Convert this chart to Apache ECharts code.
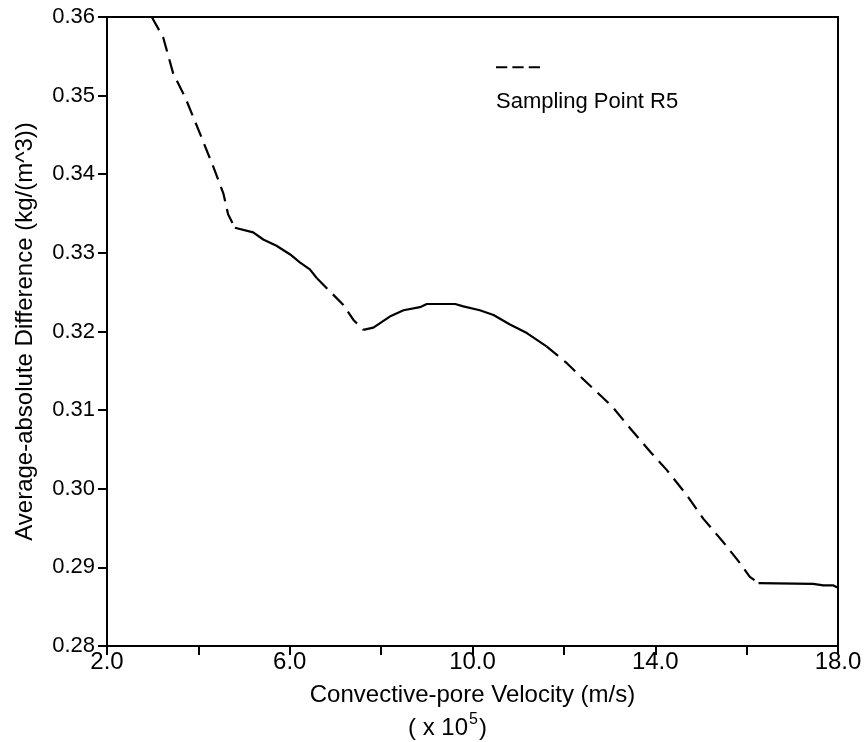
<!DOCTYPE html>
<html>
<head>
<meta charset="utf-8">
<script src="https://cdn.jsdelivr.net/npm/echarts@6/dist/echarts.min.js"></script>
<style>
  html, body { margin: 0; padding: 0; background: #fff; }
  #chart { width: 867px; height: 742px; }
</style>
</head>
<body>
<div id="chart"></div>
<script>
const seriesName = "Sampling Point R5";
const velocity = [2.98, 3.23, 3.45, 3.71, 4.04, 4.33, 4.55, 4.65, 4.80,
  5.20, 5.42, 5.71, 6.01, 6.22, 6.44, 6.59,
  6.88, 7.17, 7.39, 7.61,
  7.83, 8.19, 8.49, 8.85, 9.00, 9.62, 9.80, 10.16, 10.46, 10.82, 11.19, 11.62,
  12.06, 12.43, 13.05, 13.45, 13.89, 14.25, 14.69, 15.05, 15.49, 15.86, 16.07, 16.26,
  17.46, 17.68, 17.90, 18.0];
const difference = [0.3600, 0.3574, 0.3528, 0.3498, 0.3451, 0.3409, 0.3375, 0.3349, 0.3332,
  0.3326, 0.3317, 0.3309, 0.3298, 0.3288, 0.3279, 0.3268,
  0.3251, 0.3234, 0.3215, 0.3202,
  0.3205, 0.3219, 0.3227, 0.3231, 0.3235, 0.3235, 0.3232, 0.3227, 0.3221, 0.3209, 0.3198, 0.3181,
  0.3160, 0.3139, 0.3105, 0.3077, 0.3047, 0.3024, 0.2992, 0.2962, 0.2932, 0.2905, 0.2888, 0.2880,
  0.2879, 0.2877, 0.2877, 0.2874];

const sans = '"Liberation Sans", Arial, Helvetica, sans-serif';
const dash = [15, 8];

// the scanned curve switches between dashed and solid stretches
const pieces = [[0, 8, dash], [8, 15, "solid"], [15, 19, dash],
  [19, 31, "solid"], [31, 43, dash], [43, 47, "solid"]];

const points = velocity.map((v, i) => [v, difference[i]]);
const series = pieces.map(p => ({
  name: seriesName,
  type: "line",
  data: points.slice(p[0], p[1] + 1),
  showSymbol: false,
  symbol: "none",
  clip: true,
  lineStyle: { color: "#000", width: 2.2, type: p[2] },
  itemStyle: { color: "#000" }
}));

const chart = echarts.init(document.getElementById("chart"));
chart.setOption({
  animation: false,
  backgroundColor: "#fff",
  grid: {
    left: 107, right: 29, top: 17, bottom: 96,
    outerBoundsMode: "none",
    show: true, borderColor: "#000", borderWidth: 2
  },
  legend: [
    {
      data: [{ name: seriesName, icon: "path://M0,0h11v2h-11z M16,0h11v2h-11z M32,0h11v2h-11z" }],
      left: 496, top: 66,
      padding: 0,
      itemWidth: 44, itemHeight: 2.5,
      formatter: () => "",
      selectedMode: false,
      itemStyle: { color: "#000" }
    },
    {
      data: [{ name: seriesName, icon: "rect" }],
      left: 491, top: 91,
      padding: 0,
      itemWidth: 0, itemHeight: 0,
      selectedMode: false,
      textStyle: { fontFamily: sans, fontSize: 22, color: "#000" }
    }
  ],
  xAxis: {
    type: "value",
    min: 2, max: 18, interval: 2,
    name: "Convective-pore Velocity (m/s)\n{a|( x 10}{sup|5}{a|)}{pad|}",
    nameLocation: "middle",
    nameGap: 30,
    nameTextStyle: {
      fontFamily: sans, fontSize: 24, color: "#000", lineHeight: 33,
      rich: {
        a: { fontFamily: sans, fontSize: 24, color: "#000", lineHeight: 33 },
        sup: { fontFamily: sans, fontSize: 16, color: "#000", verticalAlign: "top", lineHeight: 33, padding: [0, 1, 16, 1] },
        pad: { width: 50 }
      }
    },
    axisLine: { show: true, lineStyle: { color: "#000", width: 2 } },
    axisTick: { show: true, inside: false, length: 9, lineStyle: { color: "#000", width: 2 } },
    axisLabel: {
      formatter: v => ((v - 2) % 4 === 0 ? v.toFixed(1) : ""),
      fontFamily: sans, fontSize: 24, color: "#000", margin: 4
    },
    splitLine: { show: false }
  },
  yAxis: {
    type: "value",
    min: 0.28, max: 0.36, interval: 0.01,
    name: "Average-absolute Difference (kg/(m^3))",
    nameLocation: "middle",
    nameGap: 70,
    nameTextStyle: { fontFamily: sans, fontSize: 24, color: "#000" },
    axisLine: { show: true, lineStyle: { color: "#000", width: 2 } },
    axisTick: { show: true, inside: false, length: 9, lineStyle: { color: "#000", width: 2 } },
    axisLabel: {
      formatter: v => v.toFixed(2),
      fontFamily: sans, fontSize: 22, color: "#000", margin: 12
    },
    splitLine: { show: false }
  },
  series: series
});
</script>
</body>
</html>
